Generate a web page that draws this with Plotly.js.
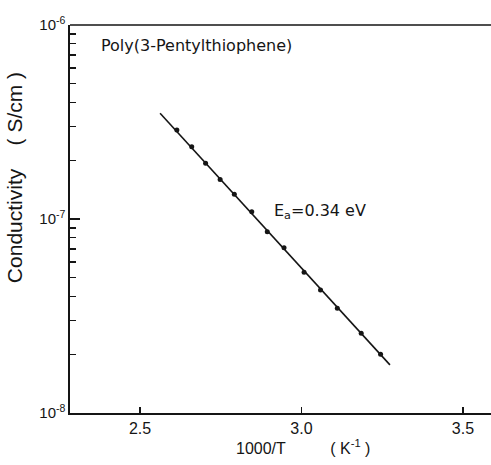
<!DOCTYPE html>
<html>
<head>
<meta charset="utf-8">
<script src="https://cdn.plot.ly/plotly-3.0.1.min.js"></script>
<style>html,body{margin:0;padding:0;background:#fff;}#chart{width:491px;height:465px;}</style>
</head>
<body>
<div id="chart"></div>
<script>
// Measured points: 1000/T (K^-1) vs conductivity (S/cm)
const invT = [2.614, 2.660, 2.703, 2.748, 2.792, 2.846, 2.894, 2.946, 3.008, 3.059, 3.111, 3.185, 3.245];
const sigma = [2.88e-7, 2.36e-7, 1.94e-7, 1.60e-7, 1.34e-7, 1.09e-7, 8.6e-8, 7.1e-8, 5.31e-8, 4.30e-8, 3.47e-8, 2.58e-8, 2.01e-8];
// Arrhenius fit line endpoints
const fitX = [2.562, 3.274];
const fitY = [3.51e-7, 1.77e-8];
// Axis ticks
const xTicks = [2.5, 3.0, 3.5];
const xTickText = ['2.5', '3.0', '3.5'];
const yTicks = [1e-8, 1e-7, 1e-6];
const yTickText = ['10<sup>-8</sup>', '10<sup>-7</sup>', '10<sup>-6</sup>'];
const sampleName = 'Poly(3-Pentylthiophene)';
const activation = 'E<sub>a</sub>=0.34 eV';
const xTitle = '1000/T&nbsp;&nbsp;&nbsp;&nbsp;&nbsp;&nbsp;&nbsp;&nbsp;&nbsp;&nbsp;( K<sup>-1</sup> )';
const yTitle = 'Conductivity&nbsp;&nbsp;&nbsp;&nbsp;( S/cm )';

const minorVals = [];
for (let d = -8; d < -6; d++) {
  for (let m = 2; m <= 9; m++) minorVals.push(m * Math.pow(10, d));
}

const ink = '#151515';
const sans = 'Liberation Sans, Arial, sans-serif';
const wide = 'DejaVu Sans, Liberation Sans, sans-serif';

const traces = [
  {x: fitX, y: fitY, mode: 'lines', line: {color: ink, width: 1.6}, hoverinfo: 'skip', showlegend: false},
  {x: invT, y: sigma, mode: 'markers', marker: {color: ink, size: 5}, showlegend: false}
];

const layout = {
  width: 491, height: 465,
  margin: {l: 70, r: 0, t: 25, b: 52},
  paper_bgcolor: '#fff', plot_bgcolor: '#fff',
  font: {family: sans, color: ink, size: 14},
  xaxis: {
    range: [2.283, 3.587],
    tickmode: 'array', tickvals: xTicks, ticktext: xTickText,
    ticks: 'inside', ticklen: 6, tickwidth: 1.5, tickcolor: ink,
    showline: true, linecolor: ink, linewidth: 1.6,
    showgrid: false, zeroline: false,
    tickfont: {size: 16, family: sans, color: ink}
  },
  yaxis: {
    type: 'log', range: [-8, -6],
    tickmode: 'array', tickvals: yTicks, ticktext: yTickText,
    ticks: 'inside', ticklen: 10, tickwidth: 1.5, tickcolor: ink,
    minor: {tickmode: 'array', tickvals: minorVals, ticks: 'inside', ticklen: 6, tickwidth: 1.3, tickcolor: ink, showgrid: false},
    showline: true, linecolor: ink, linewidth: 1.6,
    showgrid: false, zeroline: false,
    tickfont: {size: 15, family: sans, color: ink}
  },
  shapes: [
    {type: 'line', xref: 'paper', yref: 'paper', x0: 0, x1: 1, y0: 1, y1: 1, line: {color: ink, width: 1.6}}
  ],
  annotations: [
    {text: sampleName, xref: 'paper', yref: 'paper', x: 0.068, y: 0.948, xanchor: 'left', yanchor: 'middle', showarrow: false, font: {size: 16, family: wide, color: ink}},
    {text: activation, xref: 'paper', yref: 'paper', x: 0.48, y: 0.52, xanchor: 'left', yanchor: 'middle', showarrow: false, font: {size: 16, family: wide, color: ink}},
    {text: xTitle, xref: 'paper', yref: 'paper', x: 0.553, y: -0.088, xanchor: 'center', yanchor: 'middle', showarrow: false, font: {size: 16, family: sans, color: ink}},
    {text: yTitle, xref: 'paper', yref: 'paper', x: -0.13, y: 0.606, xanchor: 'center', yanchor: 'middle', textangle: -90, showarrow: false, font: {size: 21, family: sans, color: ink}}
  ]
};

Plotly.newPlot('chart', traces, layout, {displayModeBar: false, staticPlot: true});
</script>
</body>
</html>
